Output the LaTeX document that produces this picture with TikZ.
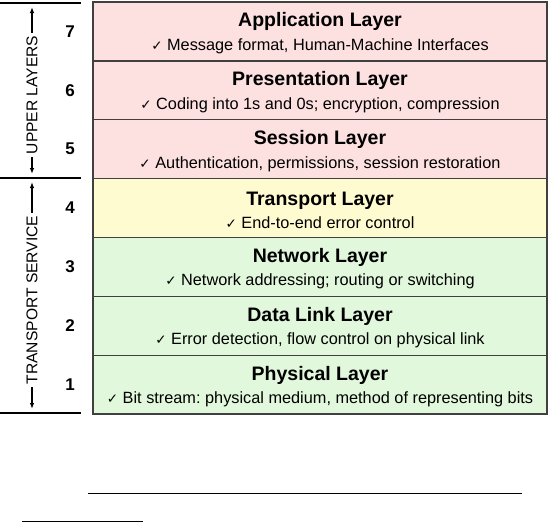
\documentclass[tikz,border=0pt]{standalone}
\usepackage{fontspec}
\setmainfont{Liberation Sans}
\newfontfamily\checkfont{DejaVu Sans}
\usetikzlibrary{positioning, arrows.meta}
\definecolor{cpink}{RGB}{253,225,225}
\definecolor{cyellow}{RGB}{255,251,208}
\definecolor{cgreen}{RGB}{225,248,220}
\definecolor{cborder}{gray}{0.25}
\frenchspacing
\newcommand{\chk}{{\checkfont\fontsize{13.5}{14}\selectfont\char"2713}\ }
\newcommand{\ttl}[1]{{\fontsize{19.5}{23}\selectfont\bfseries\rule{0pt}{18pt}#1}}

\begin{document}
\begin{tikzpicture}[x=1pt, y=-1pt,
    node distance=0pt,
    layerbox/.style={draw=cborder, line width=1.3pt, minimum width=454pt, minimum height=58.86pt, align=center, inner sep=0pt, outer sep=0pt, font=\fontsize{16.3}{23.5}\selectfont},
    numlbl/.style={inner sep=0pt, font=\fontsize{17}{20}\selectfont\bfseries},
    sidelbl/.style={rotate=90, inner sep=3pt, font=\fontsize{15.6}{18}\selectfont},
    sidearr/.style={line width=1.1pt, -{Latex[length=6pt, width=4.5pt]}},
    sepline/.style={line width=2pt}
]
\useasboundingbox (0,0) rectangle (549,523);
\node[layerbox, fill=cpink, anchor=north west] (l7) at (93,2) {\ttl{Application Layer}\\ \chk Message format, Human-Machine Interfaces};
\node[layerbox, fill=cpink, below=of l7] (l6) {\ttl{Presentation Layer}\\ \chk Coding into 1s and 0s; encryption, compression};
\node[layerbox, fill=cpink, below=of l6] (l5) {\ttl{Session Layer}\\ \chk Authentication, permissions, session restoration};
\node[layerbox, fill=cyellow, below=of l5] (l4) {\ttl{Transport Layer}\\ \chk End-to-end error control};
\node[layerbox, fill=cgreen, below=of l4] (l3) {\ttl{Network Layer}\\ \chk Network addressing; routing or switching};
\node[layerbox, fill=cgreen, below=of l3] (l2) {\ttl{Data Link Layer}\\ \chk Error detection, flow control on physical link};
\node[layerbox, fill=cgreen, below=of l2] (l1) {\ttl{Physical Layer}\\ \chk Bit stream: physical medium, method of representing bits};
% layer numbers
\foreach \n in {1,...,7}
  \node[numlbl, left=18pt of l\n] (n\n) {\n};
% grouping on the left
\draw[sepline] (0,2.5) -- (81,2.5);
\draw[sepline] (0,178) -- (81,178);
\draw[sepline] (0,413) -- (81,413);
\node[sidelbl] (upper) at (32,95) {UPPER LAYERS};
\coordinate (uppertop) at (32,7);
\coordinate (upperbot) at (32,174);
\draw[sidearr] (upper.east) -- (uppertop);
\draw[sidearr] (upper.west) -- (upperbot);
\node[sidelbl] (transp) at (32,300) {TRANSPORT SERVICE};
\coordinate (transptop) at (32,182);
\coordinate (transpbot) at (32,409);
\draw[sidearr] (transp.east) -- (transptop);
\draw[sidearr] (transp.west) -- (transpbot);
% rules below
\draw[line width=1pt] (88,493) -- (522,493);
\draw[line width=1pt] (22,521) -- (143,521);
\end{tikzpicture}
\end{document}
